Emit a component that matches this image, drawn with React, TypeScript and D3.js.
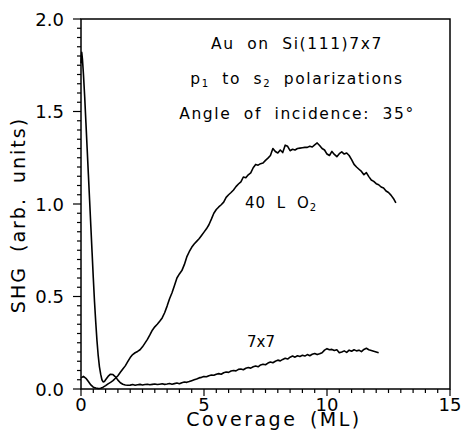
import React from "react";
import * as d3 from "d3";

const xTickLabels = [0, 5, 10, 15];
const yTickLabels = [0, 0.5, 1.0, 1.5, 2.0];

const annotationLines = ["Au on Si(111)7x7", "p1 to s2 polarizations", "Angle of incidence: 35°"];

// 40 L O2 curve: [coverage ML, SHG]
const o2Series: [number, number][] = [
  [0.0, 0.06], [0.1, 0.068], [0.2, 0.058], [0.3, 0.04], [0.4, 0.022], [0.5, 0.01], [0.6, 0.005], [0.7, 0.003], [0.8, 0.004], [0.9, 0.01],
  [1.0, 0.018], [1.1, 0.028], [1.2, 0.036], [1.3, 0.045], [1.4, 0.058], [1.5, 0.072], [1.6, 0.09], [1.7, 0.108], [1.8, 0.125], [1.9, 0.148],
  [2.0, 0.17], [2.1, 0.186], [2.2, 0.196], [2.3, 0.203], [2.4, 0.212], [2.5, 0.228], [2.6, 0.248], [2.7, 0.268], [2.8, 0.292], [2.9, 0.318],
  [3.0, 0.336], [3.1, 0.35], [3.2, 0.366], [3.3, 0.384], [3.4, 0.412], [3.5, 0.448], [3.6, 0.488], [3.7, 0.52], [3.8, 0.56], [3.9, 0.6],
  [4.0, 0.622], [4.1, 0.64], [4.2, 0.672], [4.3, 0.714], [4.4, 0.742], [4.5, 0.766], [4.6, 0.784], [4.7, 0.798], [4.8, 0.812], [4.9, 0.83],
  [5.0, 0.848], [5.1, 0.866], [5.2, 0.888], [5.3, 0.918], [5.4, 0.95], [5.5, 0.97], [5.6, 0.984], [5.7, 0.996], [5.8, 1.01], [5.9, 1.036],
  [6.0, 1.05], [6.1, 1.062], [6.2, 1.076], [6.3, 1.094], [6.4, 1.108], [6.5, 1.12], [6.6, 1.146], [6.7, 1.142], [6.8, 1.158], [6.9, 1.168],
  [7.0, 1.196], [7.1, 1.214], [7.2, 1.21], [7.3, 1.218], [7.4, 1.222], [7.5, 1.236], [7.6, 1.248], [7.7, 1.262], [7.8, 1.3], [7.9, 1.284],
  [8.0, 1.276], [8.1, 1.292], [8.2, 1.278], [8.3, 1.318], [8.4, 1.312], [8.5, 1.288], [8.6, 1.296], [8.7, 1.292], [8.8, 1.3], [8.9, 1.302],
  [9.0, 1.304], [9.1, 1.306], [9.2, 1.306], [9.3, 1.312], [9.4, 1.308], [9.5, 1.32], [9.6, 1.33], [9.7, 1.316], [9.8, 1.3], [9.9, 1.292],
  [10.0, 1.27], [10.1, 1.262], [10.2, 1.284], [10.3, 1.268], [10.4, 1.256], [10.5, 1.272], [10.6, 1.282], [10.7, 1.27], [10.8, 1.276], [10.9, 1.262],
  [11.0, 1.24], [11.1, 1.214], [11.2, 1.2], [11.3, 1.188], [11.4, 1.176], [11.5, 1.158], [11.6, 1.17], [11.7, 1.148], [11.8, 1.13], [11.9, 1.122],
  [12.0, 1.11], [12.1, 1.104], [12.2, 1.092], [12.3, 1.086], [12.4, 1.07], [12.5, 1.062], [12.6, 1.048], [12.7, 1.03], [12.8, 1.006],
];

// 7x7 curve: [coverage ML, SHG]
const cleanSeries: [number, number][] = [
  [0.0, 1.76], [0.03, 1.82], [0.06, 1.78], [0.1, 1.7], [0.15, 1.58], [0.2, 1.44], [0.25, 1.3], [0.3, 1.16], [0.35, 1.02], [0.4, 0.88],
  [0.45, 0.74], [0.5, 0.6], [0.55, 0.47], [0.6, 0.36], [0.65, 0.26], [0.7, 0.18], [0.75, 0.12], [0.8, 0.08], [0.85, 0.05], [0.9, 0.038],
  [0.95, 0.04], [1.0, 0.05], [1.1, 0.068], [1.2, 0.08], [1.3, 0.078], [1.4, 0.066], [1.5, 0.048], [1.6, 0.034], [1.7, 0.026], [1.8, 0.022],
  [1.9, 0.02], [2.0, 0.021], [2.1, 0.024], [2.2, 0.02], [2.3, 0.023], [2.4, 0.025], [2.5, 0.022], [2.6, 0.024], [2.7, 0.026], [2.8, 0.023],
  [2.9, 0.025], [3.0, 0.027], [3.1, 0.024], [3.2, 0.026], [3.3, 0.028], [3.4, 0.025], [3.5, 0.027], [3.6, 0.03], [3.7, 0.026], [3.8, 0.029],
  [3.9, 0.032], [4.0, 0.028], [4.1, 0.034], [4.2, 0.038], [4.3, 0.036], [4.4, 0.04], [4.5, 0.045], [4.6, 0.05], [4.7, 0.054], [4.8, 0.06],
  [4.9, 0.063], [5.0, 0.068], [5.1, 0.066], [5.2, 0.072], [5.3, 0.076], [5.4, 0.074], [5.5, 0.08], [5.6, 0.083], [5.7, 0.08], [5.8, 0.088],
  [5.9, 0.092], [6.0, 0.09], [6.1, 0.097], [6.2, 0.1], [6.3, 0.098], [6.4, 0.106], [6.5, 0.108], [6.6, 0.104], [6.7, 0.112], [6.8, 0.116],
  [6.9, 0.113], [7.0, 0.12], [7.1, 0.124], [7.2, 0.12], [7.3, 0.13], [7.4, 0.134], [7.5, 0.131], [7.6, 0.14], [7.7, 0.146], [7.8, 0.142],
  [7.9, 0.15], [8.0, 0.156], [8.1, 0.152], [8.2, 0.16], [8.3, 0.166], [8.4, 0.162], [8.5, 0.172], [8.6, 0.178], [8.7, 0.172], [8.8, 0.18],
  [8.9, 0.176], [9.0, 0.182], [9.1, 0.178], [9.2, 0.186], [9.3, 0.18], [9.4, 0.188], [9.5, 0.192], [9.6, 0.186], [9.7, 0.19], [9.8, 0.196],
  [9.9, 0.21], [10.0, 0.218], [10.1, 0.212], [10.2, 0.214], [10.3, 0.208], [10.4, 0.212], [10.5, 0.196], [10.6, 0.2], [10.7, 0.206], [10.8, 0.198],
  [10.9, 0.21], [11.0, 0.204], [11.1, 0.212], [11.2, 0.206], [11.3, 0.21], [11.4, 0.202], [11.5, 0.214], [11.6, 0.22], [11.7, 0.212], [11.8, 0.208],
  [11.9, 0.204], [12.0, 0.2], [12.1, 0.196],
];

const FONT = "'DejaVu Sans', 'Liberation Sans', sans-serif";

export default function App() {
  const W = 461, H = 436;
  const x = d3.scaleLinear().domain([0, 15]).range([81, 450]);
  const y = d3.scaleLinear().domain([0, 2]).range([389, 19]);
  const line = d3.line<[number, number]>().x(d => x(d[0])).y(d => y(d[1])).curve(d3.curveLinear);

  const xMinor = d3.range(0, 15.001, 0.5);
  const yMinor = d3.range(0, 2.0001, 0.05);

  return (
    <svg width={W} height={H} style={{ position: "absolute", left: 0, top: 0, background: "#fff" }} fontFamily={FONT}>
      <rect x={0} y={0} width={W} height={H} fill="#fff" />
      {/* frame */}
      <rect x={x(0)} y={y(2)} width={x(15) - x(0)} height={y(0) - y(2)} fill="none" stroke="#000" strokeWidth={1.5} />
      {/* x ticks */}
      {xMinor.map((v, i) => {
        const major = Math.abs(v % 5) < 1e-6;
        return <line key={"xt" + i} x1={x(v)} x2={x(v)} y1={y(0)} y2={y(0) + (major ? 7 : 4)} stroke="#000" strokeWidth={1.2} />;
      })}
      {/* y ticks */}
      {yMinor.map((v, i) => {
        const major = Math.abs((v * 2) - Math.round(v * 2)) < 1e-6;
        return <line key={"yt" + i} x1={x(0) - (major ? 8 : 4)} x2={x(0)} y1={y(v)} y2={y(v)} stroke="#000" strokeWidth={1.2} />;
      })}
      {xTickLabels.map(v => (
        <text key={"xl" + v} x={x(v)} y={411} textAnchor="middle" fontSize={18} fill="#000">{v}</text>
      ))}
      {yTickLabels.map(v => (
        <text key={"yl" + v} x={64} y={y(v) + 6.5} textAnchor="end" fontSize={18} fill="#000">{v.toFixed(1)}</text>
      ))}
      {/* axis titles */}
      <text x={274} y={426} textAnchor="middle" fontSize={19} letterSpacing={2.5} wordSpacing={4} fill="#000">Coverage (ML)</text>
      <text transform={`translate(25,${215}) rotate(-90)`} textAnchor="middle" fontSize={19} letterSpacing={2} wordSpacing={6} fill="#000">SHG (arb. units)</text>
      {/* curves */}
      <path d={line(o2Series) || ""} fill="none" stroke="#000" strokeWidth={1.6} strokeLinejoin="round" />
      <path d={line(cleanSeries) || ""} fill="none" stroke="#000" strokeWidth={1.6} strokeLinejoin="round" />
      {/* annotations */}
      <g fontSize={15.5} letterSpacing={1.6} wordSpacing={6} fill="#000" textAnchor="middle">
        <text x={297} y={49}>{annotationLines[0]}</text>
        <text x={297} y={84}>
          <tspan>p</tspan><tspan fontSize={10} dy={3}>1</tspan><tspan dy={-3}> to s</tspan><tspan fontSize={10} dy={3}>2</tspan><tspan dy={-3}> polarizations</tspan>
        </text>
        <text x={297} y={119}>{annotationLines[2]}</text>
      </g>
      <g fontSize={15} letterSpacing={1} wordSpacing={5} fill="#000">
        <text x={245} y={208}>40 L O<tspan fontSize={10} dy={3}>2</tspan></text>
        <text x={247} y={347} letterSpacing={0}>7x7</text>
      </g>
    </svg>
  );
}
